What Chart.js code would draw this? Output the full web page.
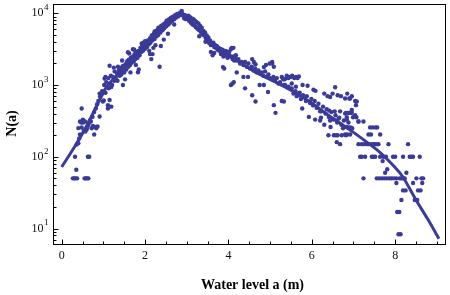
<!DOCTYPE html>
<html>
<head>
<meta charset="utf-8">
<script src="https://cdn.jsdelivr.net/npm/chart.js@4.4.1/dist/chart.umd.min.js"></script>
<style>
html,body{margin:0;padding:0;background:#fff;}
#wrap{width:450px;height:295px;}
</style>
</head>
<body>
<div id="wrap"><canvas id="c" width="450" height="295"></canvas></div>
<script>
// Observed counts N(a) vs water level a (m): [level, count]
const risingPoints = [
[0.27,50],[0.30,50],[0.33,50],[0.37,50],[0.32,100],[0.35,66],[0.55,50],[0.58,50],[0.61,50],[0.64,50],[0.63,100],[0.66,100],
[0.36,148],[0.40,155],[0.42,180],[0.44,205],[0.44,310],[0.47,300],[0.48,470],[0.48,256],[0.40,251],[0.52,300],[0.56,310],[0.53,230],[0.57,225],[0.60,240],[0.64,280],[0.66,300],[0.70,310],[0.72,250],[0.75,270],[0.78,204],[0.80,260],[0.83,250],[0.86,265],[0.91,365],[0.62,260],[0.68,320],[0.74,360],[0.78,420],[0.82,470],[0.85,540],[0.88,600],[0.92,690],[0.95,740],[0.99,590],[1.01,610],[0.91,760],[0.97,820],[1.11,470],[1.15,620],[1.11,525],[1.19,500],[0.51,330],
[1.02,1000],[1.05,780],[1.07,1100],[1.09,950],[1.12,1250],[1.13,900],[1.16,1050],[1.18,1350],[1.21,1000],[1.23,1300],[1.26,1150],[1.27,1550],[1.30,1250],[1.33,1450],[1.34,1150],[1.37,1600],[1.39,1350],[1.41,1750],[1.43,1400],[1.46,1550],[1.47,1850],[1.50,1500],[1.53,1950],[1.55,1650],[1.57,2150],[1.60,1800],[1.61,2250],[1.64,1900],[1.66,2400],[1.68,2050],[1.71,2500],[1.73,2150],[1.75,2700],[1.77,2300],[1.80,2900],[1.82,2400],[1.84,3000],[1.87,2600],[1.89,3300],
[1.15,1860],[1.03,1230],[1.05,1300],[1.19,940],[1.47,1000],[1.59,2870],[1.62,2750],[1.71,3160],[1.74,3100],[1.45,2200],[1.35,1800],[1.25,1750],[1.52,1200],[1.65,1500],[1.83,1510],[1.85,1650],[1.78,1900]
];
const peakPoints = [
[1.91,2900],[1.93,3500],[1.95,3000],[1.98,3700],[2.00,3200],[2.02,4000],[2.05,3400],[2.07,4200],[2.09,3700],[2.12,4500],[2.13,3900],[2.16,4900],[2.18,4200],[2.21,5200],[2.23,4400],[2.25,5500],[2.28,4800],[2.30,5900],[2.32,5000],[2.35,6300],[2.37,5400],[2.39,6700],[2.42,5800],[2.44,7000],[2.46,6200],[2.49,7400],[2.51,6600],[2.53,7900],[2.56,7000],[2.58,8300],[2.60,7400],[2.63,8700],[2.65,7800],[2.67,9000],[2.70,8300],[2.72,9400],[2.74,8700],[2.77,9800],[2.79,9000],[2.81,9300],[2.84,10200],[2.86,9500],[2.88,10800],[2.90,9700],
[1.92,3800],[1.96,3900],[2.00,4100],[2.23,5600],[2.27,5700],[2.32,6300],[2.12,2700],[2.15,2300],[2.18,2700],[2.35,1800],[2.10,3000],[2.38,3500],[2.45,4300],[2.55,5200],[2.70,7000],[2.20,3300],[2.25,3600],[2.62,8600],[2.52,7900],
[2.92,9200],[2.94,8500],[2.96,9400],[2.98,8300],[3.00,9000],[3.02,8600],[3.04,9300],[3.06,7800],[3.08,8800],[3.10,7400],[3.12,8500],[3.14,7000],[3.16,8300],[3.18,6800],[3.20,7900],[3.22,6400],[3.24,7500],[3.26,6100],[3.28,7200],[3.30,5800],[3.32,6700],[3.34,5500],[3.36,6300],[3.38,5100],[3.40,5700],[3.42,4900],[3.44,5400],[3.46,4500],[3.48,4900],[3.50,4200],[3.52,4600],[3.54,3900],[3.56,4200],[3.58,3600],[3.60,3700],
[3.54,3900],[3.62,2600],[3.58,2900],[3.66,2800],[3.30,4800],[3.45,4000]
];
const fallingPoints = [
[3.62,3700],[3.64,3900],[3.66,3400],[3.68,3600],[3.70,3300],[3.72,3500],[3.74,3100],[3.76,3300],[3.78,3000],[3.80,3200],[3.82,2700],[3.84,2900],[3.86,3100],[3.88,2500],[3.90,2800],[3.92,2600],[3.94,3000],[3.96,2700],[3.98,2400],[4.00,2600],[4.02,2900],[4.04,2500],[4.06,3160],[4.08,3300],[4.10,2300],[4.12,2500],[4.14,2200],[4.16,2400],[4.18,2600],[4.20,2200],[4.24,2300],[4.28,2000],[4.32,2100],[4.36,1900],[4.40,2100],[4.44,1800],[4.48,2000],[4.52,1700],[4.57,2300],[4.61,2100],[4.56,1800],[4.60,1600],[4.64,1700],[4.68,1500],[4.72,1600],[4.76,1450],[4.80,1500],[4.84,1350],[4.88,1550],[4.92,1300],[4.96,1400],[5.00,1250],[5.05,2000],[5.09,1800],[5.04,1200],[5.08,1300],[5.12,1150],[5.16,1250],[5.20,1050],[5.24,1100],[5.28,1300],[5.32,1200],[5.36,1000],[5.40,1250],[5.44,950],[5.48,1300],
[3.87,1780],[3.90,1700],[4.06,1000],[4.10,1050],[4.13,1100],[4.57,720],[4.65,590],[4.40,900],[4.75,1000],[4.95,800],[5.09,525],[5.13,410],[4.36,1300],[4.47,1300],[5.33,590],[5.28,600],[4.20,1500],[4.85,1000],[5.05,2100],[4.90,1900],[4.99,2000],[4.12,3300],[4.65,1950],[4.85,1780],
[5.30,1250],[5.35,1200],[5.40,1350],[5.44,1250],[5.49,1300],[5.53,1350],[5.58,1250],[5.62,1300],[5.66,1250],[5.69,1320],[5.33,1000],[5.52,1050],[5.62,950],[5.78,1000],[5.90,980],[6.09,830],[6.04,860],[6.30,760],[6.38,700],[6.44,680],[6.50,760],[6.56,930],[6.62,720],[6.70,700],[6.80,650],[6.85,760],[6.90,650],[6.96,700],
[5.52,900],[5.56,760],[5.61,820],[5.64,700],[5.71,780],[5.74,640],[5.79,720],[5.86,600],[5.88,700],[5.96,560],[5.99,640],[6.03,520],[6.07,600],[6.12,480],[6.16,550],[6.23,430],[6.27,500],[6.33,400],[6.36,460],[6.41,360],[6.47,420],[6.52,330],[6.57,380],[6.61,300],[6.66,350],[6.71,280],[6.77,320],[6.83,260],[6.88,300],[6.97,250],
[6.20,430],[6.42,440],[6.55,430],[6.68,430],[6.80,400],[6.93,410],
[6.22,350],[6.44,320],[6.64,340],[6.84,330],[7.12,310],[7.24,310],
[5.93,360],[5.77,470],[6.20,320],[6.40,200],[6.53,200],[6.58,200],[6.62,200],[6.68,150],[6.72,200],[6.60,160],[6.08,330],[6.30,280],[6.45,260],[6.75,250],[6.82,200],[6.92,650],[7.04,600],[7.08,590],[7.06,525],[7.04,380],[6.96,450]
];
const tailPoints = [
[6.82,410],[6.86,410],[6.90,410],[6.96,410],[6.84,355],[6.99,355],[7.07,355],[7.12,310],[6.88,257],[6.93,257],[7.40,257],[7.46,257],[7.53,257],[7.57,257],[6.80,204],[6.85,204],[6.92,204],[7.36,204],[7.42,204],[7.64,204],
[7.12,150],[7.20,150],[7.26,150],[7.33,150],[7.38,150],[7.44,150],[7.48,150],[7.52,150],[7.57,150],[7.60,150],[7.84,150],[8.31,150],
[7.16,100],[7.20,100],[7.28,100],[7.44,100],[7.48,100],[7.52,100],[7.64,100],[7.72,100],[7.78,100],[7.95,100],[8.00,100],[8.19,100],[8.35,100],[8.39,100],[8.43,100],[8.59,100],
[7.70,87],[7.81,67],[7.76,60],[8.27,60],
[7.24,50],[7.56,50],[7.62,50],[7.68,50],[7.74,50],[7.80,50],[7.86,50],[7.91,50],[7.97,50],[8.03,50],[8.11,50],[8.15,50],[8.19,50],[8.23,50],[8.51,50],[8.63,50],[8.67,50],
[8.03,43],[8.43,43],[8.65,43],[8.19,34],[8.25,34],[8.55,34],[8.61,34],[8.15,25],[8.47,25],[8.53,25],[8.05,17],[8.10,17],[8.08,8.3],[8.13,8.3]
];
// Fitted curve
const fitLevel = [0, 0.3, 0.6, 0.9, 1.05, 1.2, 1.4, 1.6, 1.8, 2.0, 2.2, 2.4, 2.6, 2.75, 2.88, 3.0, 3.2, 3.54, 3.86, 4.2, 4.65, 5.2, 5.5, 6.0, 6.4, 7.0, 7.6, 8.0, 8.2, 8.5, 8.8, 9.05];
const fitCount = [72, 135, 269, 603, 891, 1148, 1514, 1995, 2570, 3548, 4677, 6166, 7943, 9333, 10000, 8913, 6761, 4169, 3090, 2239, 1514, 1047, 851, 562, 380, 219, 120, 71, 51, 25, 13, 7.2];
// Tick labels
const xTickValues = [0, 2, 4, 6, 8];
const xTickLabels = ['0', '2', '4', '6', '8'];
const yTickExponents = [1, 2, 3, 4];
const xTitle = 'Water level a (m)';
const yTitle = 'N(a)';

const dotColor = 'rgb(58,58,152)';
const serif = '"Liberation Serif", "DejaVu Serif", serif';

const framePlugin = {
  id: 'frame',
  afterDraw(chart) {
    const {ctx, chartArea: a, scales: {x, y}} = chart;
    ctx.save();
    ctx.strokeStyle = '#000';
    ctx.lineWidth = 1;
    const L = Math.round(a.left) + 0.5, R = Math.round(a.right) - 0.5;
    const T = Math.round(a.top) + 0.5, B = Math.round(a.bottom) - 0.5;
    ctx.strokeRect(L, T, R - L, B - T);
    ctx.beginPath();
    for (let i = 0; i <= 18; i++) {
      const v = i * 0.5;
      const px = Math.round(x.getPixelForValue(v)) + 0.5;
      const len = (i % 4 === 0) ? 5 : 3;
      ctx.moveTo(px, B); ctx.lineTo(px, B - len);
    }
    for (let e = 0; e <= 4; e++) {
      for (let m = 1; m <= 9; m++) {
        const v = m * Math.pow(10, e);
        if (v < y.min || v > y.max) continue;
        const py = Math.round(y.getPixelForValue(v)) + 0.5;
        const len = (m === 1) ? 5 : 3;
        ctx.moveTo(L, py); ctx.lineTo(L + len, py);
      }
    }
    ctx.stroke();
    ctx.fillStyle = '#111';
    ctx.font = '12px ' + serif;
    ctx.textAlign = 'center';
    ctx.textBaseline = 'middle';
    xTickValues.forEach((v, i) => {
      ctx.fillText(xTickLabels[i], x.getPixelForValue(v), 256);
    });
    yTickExponents.forEach(e => {
      const py = y.getPixelForValue(Math.pow(10, e));
      ctx.font = '12px ' + serif;
      ctx.textAlign = 'right';
      ctx.textBaseline = 'middle';
      ctx.fillText('10', 43.5, py);
      ctx.font = '9px ' + serif;
      ctx.textAlign = 'left';
      ctx.fillText(String(e), 44, py - 5.5);
    });
    ctx.fillStyle = '#000';
    ctx.font = 'bold 14px ' + serif;
    ctx.textAlign = 'center';
    ctx.textBaseline = 'alphabetic';
    ctx.fillText(xTitle, 252.5, 289);
    ctx.save();
    ctx.translate(16, 123.5);
    ctx.rotate(-Math.PI / 2);
    ctx.fillText(yTitle, 0, 0);
    ctx.restore();
    ctx.restore();
  }
};

const toXY = arr => arr.map(([lx, n]) => ({x: lx, y: n}));

new Chart(document.getElementById('c'), {
  type: 'scatter',
  data: {
    datasets: [
      {
        label: 'observed',
        data: toXY([...risingPoints, ...peakPoints, ...fallingPoints, ...tailPoints]),
        pointRadius: 2.2,
        pointBackgroundColor: dotColor,
        pointBorderWidth: 0,
        showLine: false
      },
      {
        label: 'fit',
        data: fitLevel.map((v, i) => ({x: v, y: fitCount[i]})),
        showLine: true,
        borderColor: 'rgb(60,60,150)',
        borderWidth: 3,
        pointRadius: 0,
        tension: 0.15,
        fill: false
      }
    ]
  },
  options: {
    responsive: false,
    animation: false,
    devicePixelRatio: 1,
    layout: {padding: {left: 53, right: 2, top: 1, bottom: 50}},
    plugins: {legend: {display: false}, tooltip: {enabled: false}},
    scales: {
      x: {type: 'linear', min: -0.208, max: 9.22, display: false},
      y: {type: 'logarithmic', min: 5.89, max: 13490, display: false}
    }
  },
  plugins: [framePlugin]
});
</script>
</body>
</html>
